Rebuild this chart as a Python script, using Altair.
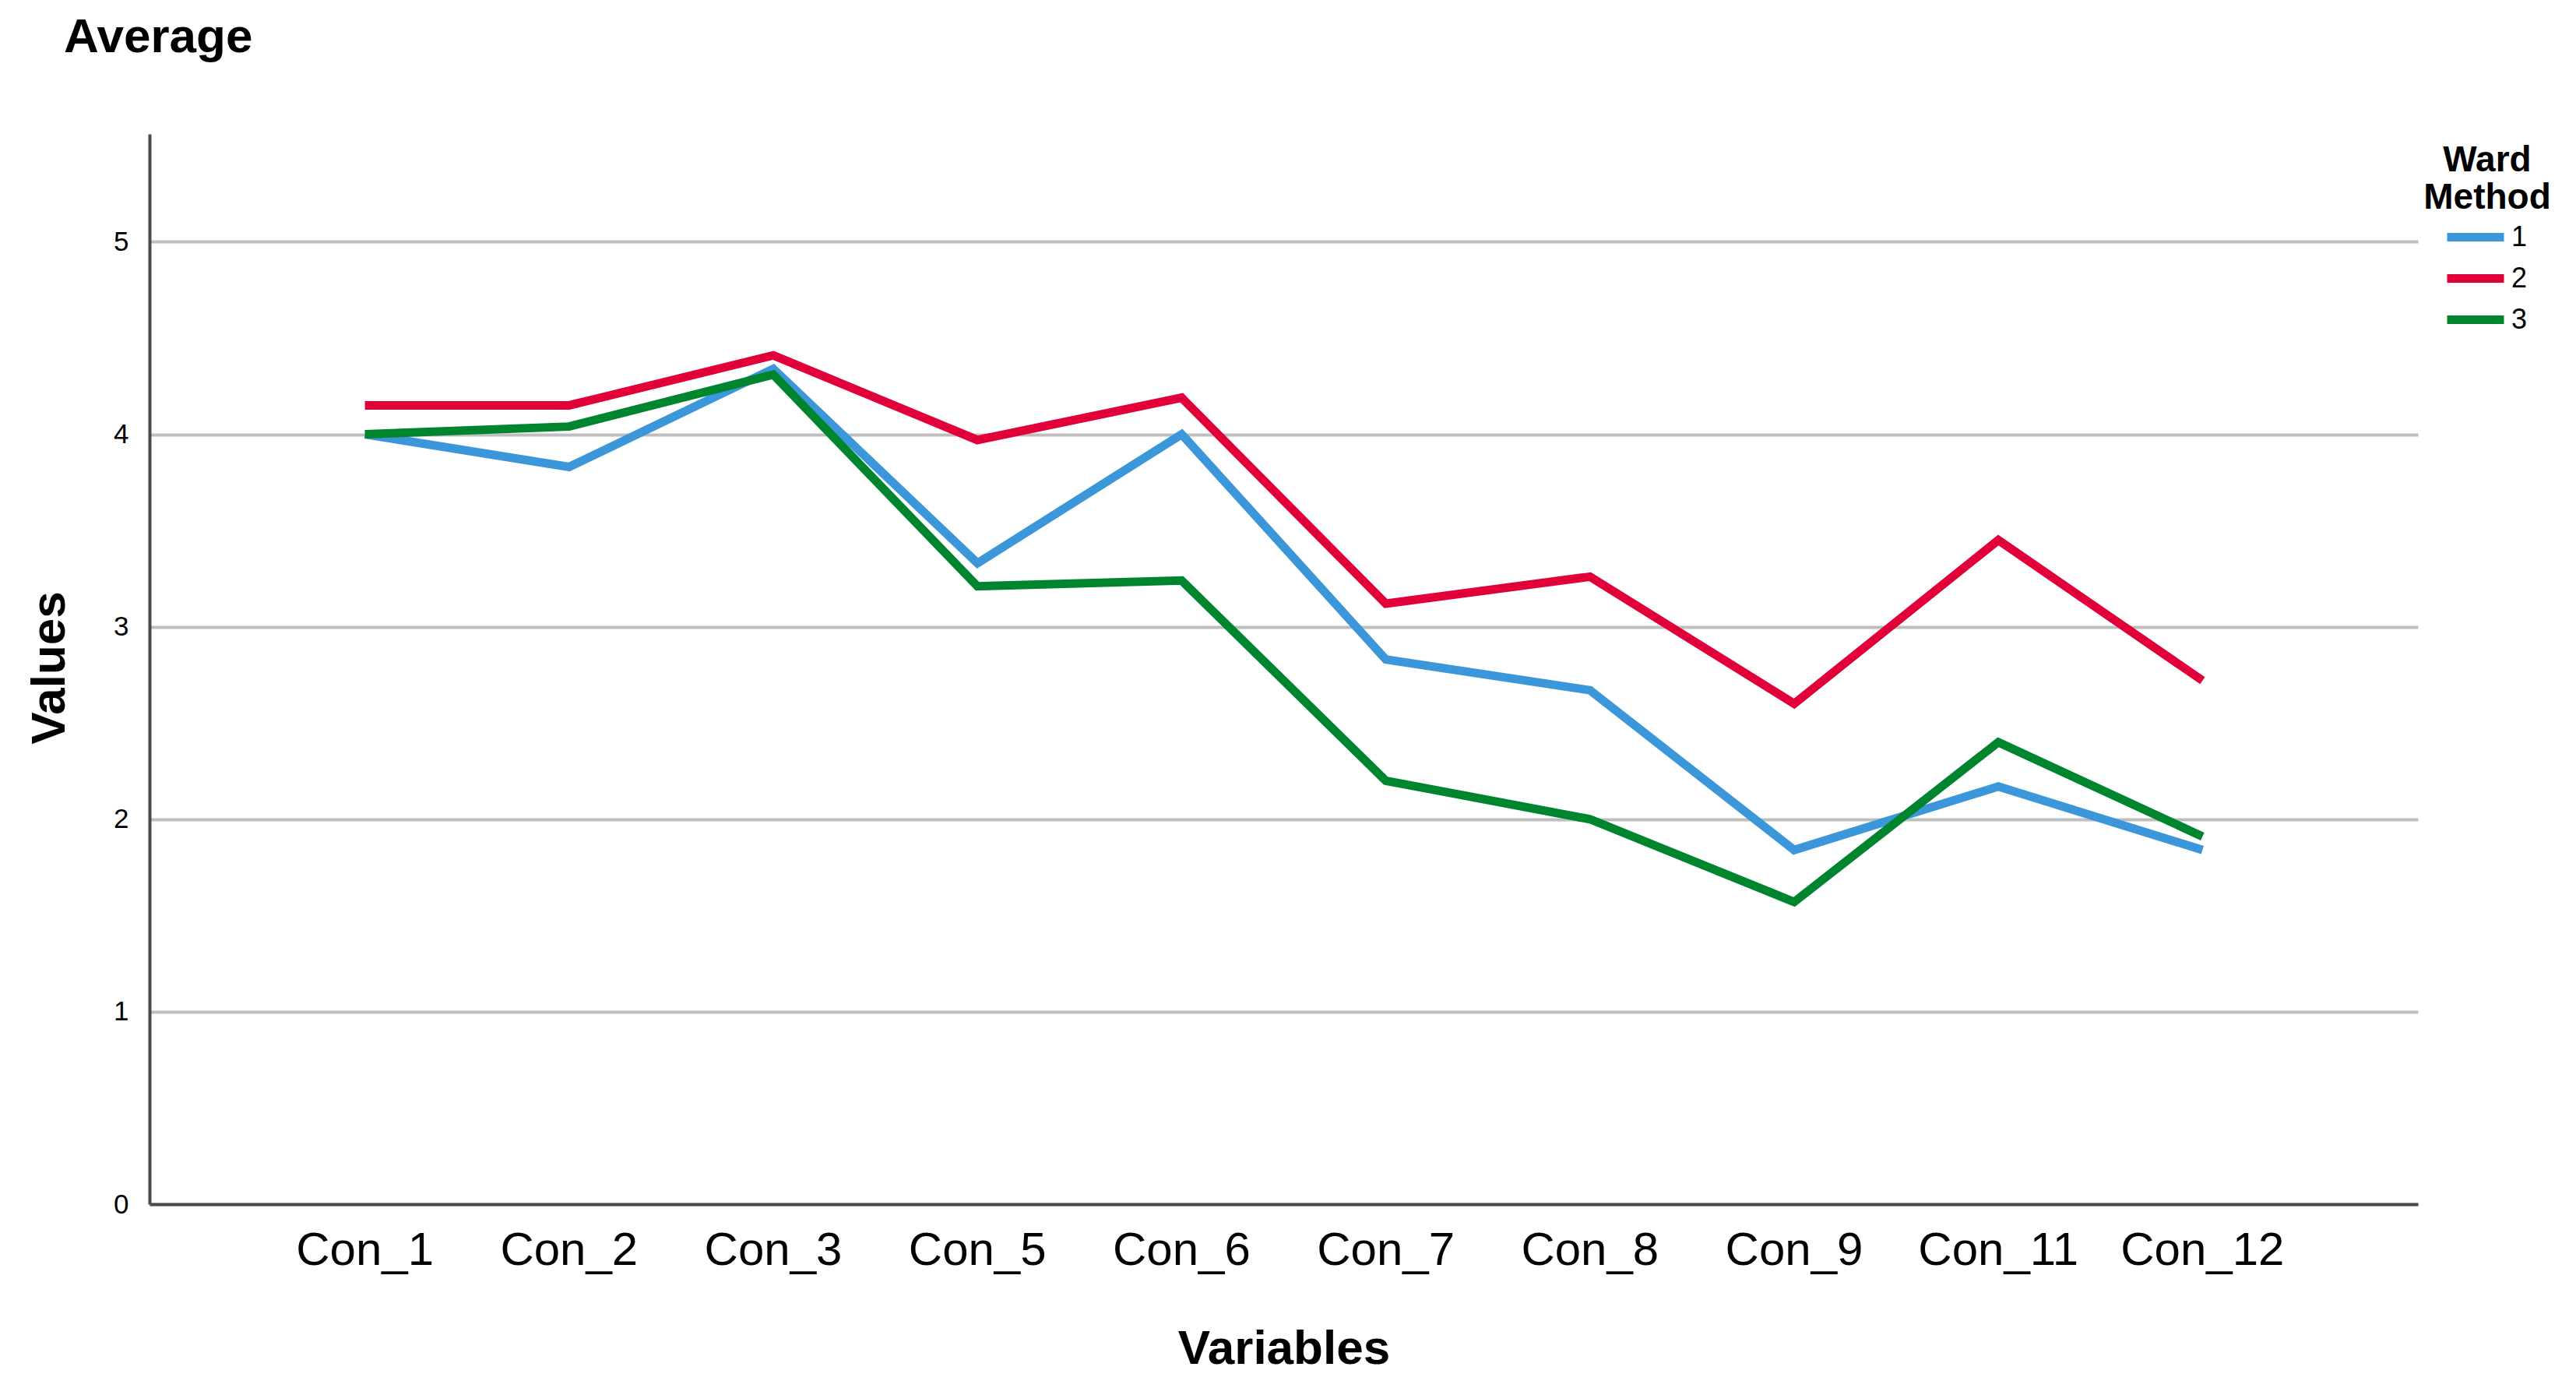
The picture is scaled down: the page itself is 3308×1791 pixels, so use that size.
import altair as alt
import pandas as pd

categories = ["Con_1", "Con_2", "Con_3", "Con_5", "Con_6", "Con_7", "Con_8", "Con_9", "Con_11", "Con_12"]
cluster_1 = [4.00, 3.83, 4.34, 3.33, 4.00, 2.83, 2.67, 1.84, 2.17, 1.84]
cluster_2 = [4.15, 4.15, 4.41, 3.97, 4.19, 3.12, 3.26, 2.60, 3.45, 2.72]
cluster_3 = [4.00, 4.04, 4.31, 3.21, 3.24, 2.20, 2.00, 1.57, 2.40, 1.91]
groups = ["1", "2", "3"]
colors = ["#3C97DA", "#E2003B", "#00852F"]
y_ticks = [0, 1, 2, 3, 4, 5]

rows = []
for g, vals in zip(groups, [cluster_1, cluster_2, cluster_3]):
    for c, v in zip(categories, vals):
        rows.append({"Variable": c, "Value": v, "Cluster": g})
df = pd.DataFrame(rows)

FONT = "Liberation Sans"

lines = alt.Chart(df).mark_line(strokeWidth=11, strokeJoin="miter").encode(
    x=alt.X(
        "Variable:N",
        sort=categories,
        scale=alt.Scale(type="band", paddingInner=0, paddingOuter=0.555),
        axis=alt.Axis(
            title="Variables",
            labelAngle=0,
            labelFont=FONT,
            labelFontSize=60,
            labelColor="black",
            labelBaseline="alphabetic",
            labelPadding=77,
            labelOverlap=False,
            labelFlush=False,
            labelLimit=1000,
            ticks=False,
            tickSize=0,
            grid=False,
            domainColor="#4a4a4a",
            domainWidth=4,
            titleFont=FONT,
            titleFontSize=62,
            titleFontWeight="bold",
            titleColor="black",
            titleBaseline="alphabetic",
            titleY=204,
        ),
    ),
    y=alt.Y(
        "Value:Q",
        scale=alt.Scale(domain=[0, 5.56], nice=False, zero=True),
        axis=alt.Axis(
            title="Values",
            values=y_ticks,
            labelFont=FONT,
            labelFontSize=35,
            labelColor="black",
            labelPadding=27,
            ticks=False,
            tickSize=0,
            grid=True,
            gridColor="#BEBEBE",
            gridWidth=4,
            domainColor="#4a4a4a",
            domainWidth=4,
            titleFont=FONT,
            titleFontSize=62,
            titleFontWeight="bold",
            titleColor="black",
            titleAngle=270,
            titleAlign="center",
            titleBaseline="middle",
            titleX=-129,
            titleY=685,
        ),
    ),
    color=alt.Color(
        "Cluster:N",
        scale=alt.Scale(domain=groups, range=colors),
        legend=alt.Legend(
            title=None,
            orient="none",
            legendX=2945,
            legendY=106,
            symbolType="stroke",
            symbolSize=5329,
            symbolStrokeWidth=11,
            labelFont=FONT,
            labelFontSize=36,
            labelColor="black",
            labelOffset=4,
            clipHeight=53,
            rowPadding=0,
            padding=0,
        ),
    ),
)

title_text = alt.Chart(pd.DataFrame({"t": ["Average"]})).mark_text(
    font=FONT, fontSize=62, fontWeight="bold", align="left", baseline="alphabetic", color="black"
).encode(text="t:N", x=alt.value(-110), y=alt.value(-105))

legend_title = alt.Chart(pd.DataFrame({"t": ["Ward\nMethod"]})).mark_text(
    font=FONT, fontSize=46, fontWeight="bold", align="center", baseline="alphabetic",
    lineBreak="\n", lineHeight=48, color="black"
).encode(text="t:N", x=alt.value(3002), y=alt.value(48))

chart = alt.layer(lines, title_text, legend_title).properties(
    width=2913,
    height=1374,
    autosize=alt.AutoSizeParams(type="none"),
    padding={"left": 184, "top": 164, "right": 180, "bottom": 220},
).configure_view(stroke=None)

chart.save("out.html", embed_options={"renderer": "svg", "actions": False})
